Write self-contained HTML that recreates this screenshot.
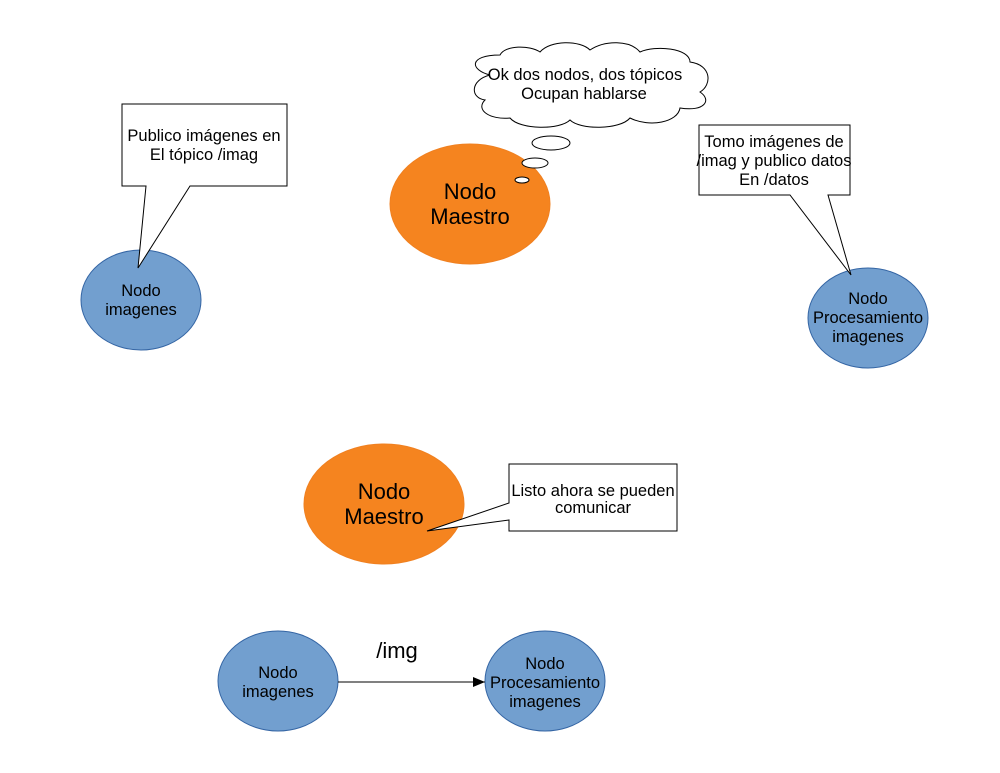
<!DOCTYPE html>
<html><head><meta charset="utf-8"><style>body{margin:0;background:#fff}svg{display:block}</style></head><body>
<svg width="1000" height="773" viewBox="0 0 1000 773" font-family="Liberation Sans, sans-serif">
<defs><marker id="a" markerWidth="12" markerHeight="10" refX="12" refY="5" orient="auto" markerUnits="userSpaceOnUse"><path d="M0,0 L12,5 L0,10z" fill="#000"/></marker></defs>
<!-- top-left -->
<ellipse cx="141" cy="300" rx="60" ry="50" fill="#729fcf" stroke="#3465a4"/>
<text x="141" y="296" font-size="16.5" text-anchor="middle">Nodo</text>
<text x="141" y="315" font-size="16.5" text-anchor="middle">imagenes</text>
<path d="M146,186 L122,186 L122,104 L287,104 L287,186 L190,186 L138,268 Z" fill="#fff" stroke="#000"/>
<text x="204" y="141" font-size="16.5" text-anchor="middle">Publico imágenes en</text>
<text x="204" y="160" font-size="16.5" text-anchor="middle">El tópico /imag</text>
<!-- top master -->
<ellipse cx="470" cy="204" rx="80" ry="60" fill="#f5841f" stroke="#f08020"/>
<text x="470" y="199" font-size="22" text-anchor="middle">Nodo</text>
<text x="470" y="224" font-size="22" text-anchor="middle">Maestro</text>
<path d="M490,75 C470,70 468,55 500,55 C505,45 530,45 540,52 C550,40 580,40 590,50 C605,40 630,40 640,52 C655,45 690,48 690,62 C712,65 712,85 700,92 C712,100 705,112 680,108 C678,122 650,128 630,118 C620,130 580,130 570,120 C560,130 520,130 510,118 C490,120 475,110 485,100 C470,98 470,80 490,75 Z" fill="#fff" stroke="#000"/>
<text x="585" y="80" font-size="16.5" text-anchor="middle">Ok dos nodos, dos tópicos</text>
<text x="584" y="99" font-size="16.5" text-anchor="middle">Ocupan hablarse</text>
<ellipse cx="551" cy="143" rx="19" ry="7" fill="#fff" stroke="#000"/>
<ellipse cx="535" cy="163" rx="13" ry="5" fill="#fff" stroke="#000"/>
<ellipse cx="522" cy="180" rx="7" ry="3" fill="#fff" stroke="#000"/>
<!-- top right -->
<ellipse cx="868" cy="318" rx="60" ry="50" fill="#729fcf" stroke="#3465a4"/>
<text x="868" y="304" font-size="16.5" text-anchor="middle">Nodo</text>
<text x="868" y="323" font-size="16.5" text-anchor="middle">Procesamiento</text>
<text x="868" y="342" font-size="16.5" text-anchor="middle">imagenes</text>
<path d="M790,195 L699,195 L699,125 L850,125 L850,195 L828,195 L851,275 Z" fill="#fff" stroke="#000"/>
<text x="774" y="147" font-size="16.5" text-anchor="middle">Tomo imágenes de</text>
<text x="774" y="166" font-size="16.5" text-anchor="middle">/imag y publico datos</text>
<text x="774" y="185" font-size="16.5" text-anchor="middle">En /datos</text>
<!-- bottom master -->
<ellipse cx="384" cy="504" rx="80" ry="60" fill="#f5841f" stroke="#f08020"/>
<text x="384" y="499" font-size="22" text-anchor="middle">Nodo</text>
<text x="384" y="524" font-size="22" text-anchor="middle">Maestro</text>
<path d="M509,503 L509,464 L677,464 L677,531 L509,531 L509,520 L427,531 Z" fill="#fff" stroke="#000"/>
<text x="593" y="496" font-size="16.5" text-anchor="middle">Listo ahora se pueden</text>
<text x="593" y="513" font-size="16.5" text-anchor="middle">comunicar</text>
<!-- bottom -->
<ellipse cx="278" cy="681" rx="60" ry="50" fill="#729fcf" stroke="#3465a4"/>
<text x="278" y="678" font-size="16.5" text-anchor="middle">Nodo</text>
<text x="278" y="697" font-size="16.5" text-anchor="middle">imagenes</text>
<ellipse cx="545" cy="681" rx="60" ry="50" fill="#729fcf" stroke="#3465a4"/>
<text x="545" y="669" font-size="16.5" text-anchor="middle">Nodo</text>
<text x="545" y="688" font-size="16.5" text-anchor="middle">Procesamiento</text>
<text x="545" y="707" font-size="16.5" text-anchor="middle">imagenes</text>
<line x1="338" y1="682" x2="485" y2="682" stroke="#000" marker-end="url(#a)"/>
<text x="397" y="658" font-size="22" text-anchor="middle">/img</text>
</svg>
</body></html>
